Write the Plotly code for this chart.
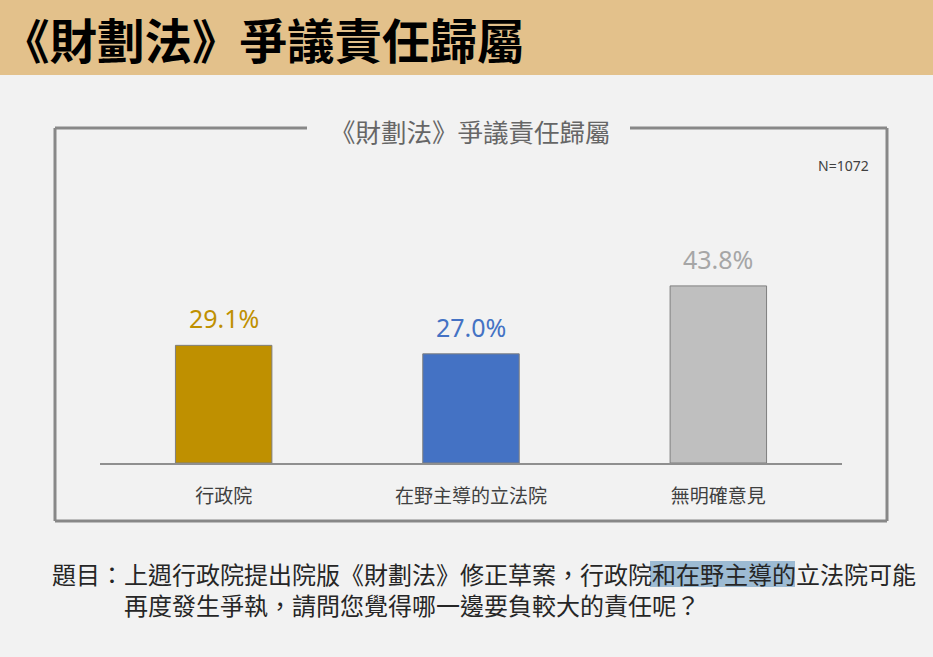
import plotly.graph_objects as go

# ---- data ----
categories = ["行政院", "在野主導的立法院", "無明確意見"]
values = [29.1, 27.0, 43.8]
value_labels = ["29.1%", "27.0%", "43.8%"]
bar_colors = ["#bf9000", "#4472c4", "#bfbfbf"]
label_colors = ["#bf9000", "#4472c4", "#a6a6a6"]

page_title = "《財劃法》爭議責任歸屬"
chart_title = "《財劃法》爭議責任歸屬"
sample_note = "N=1072"
question_line1 = "題目：上週行政院提出院版《財劃法》修正草案，行政院和在野主導的立法院可能"
question_line2 = "再度發生爭執，請問您覺得哪一邊要負較大的責任呢？"

W, H = 933, 657
CJK = "Noto Sans CJK TC"


def px(x):
    return x / W


def py(y):
    return 1 - y / H


fig = go.Figure()
fig.add_trace(go.Bar(
    x=categories,
    y=values,
    marker=dict(color=bar_colors, line=dict(color="#7f7f7f", width=1)),
    width=0.39,
    hoverinfo="skip",
))

annotations = []
for c, v, t, col in zip(categories, values, value_labels, label_colors):
    annotations.append(dict(
        x=c, y=v, xref="x", yref="y", text=t, showarrow=False,
        yanchor="bottom", yshift=8,
        font=dict(family="Noto Sans", size=25, color=col),
    ))

# header title
annotations.append(dict(
    x=px(0), y=py(38), xref="paper", yref="paper", text="<b>" + page_title + "</b>",
    showarrow=False, xanchor="left", yanchor="middle",
    font=dict(family=CJK, size=47.5, color="#000000"),
))
# chart title
annotations.append(dict(
    x=px(470), y=py(131), xref="paper", yref="paper", text=chart_title,
    showarrow=False, xanchor="center", yanchor="middle",
    font=dict(family=CJK, size=25.5, color="#666666"),
))
# N note
annotations.append(dict(
    x=px(871), y=py(165), xref="paper", yref="paper", text=sample_note,
    showarrow=False, xanchor="right", yanchor="middle",
    font=dict(family="Noto Sans", size=14, color="#404040"),
))
# question text (second line indented to align after "題目：")
annotations.append(dict(
    x=px(50), y=py(589), xref="paper", yref="paper",
    text=question_line1 + "<br>" + "\u3000\u3000\u3000" + question_line2,
    showarrow=False, xanchor="left", yanchor="middle", align="left",
    font=dict(family=CJK, size=24, color="#262626"),
))

frame_col = "#888888"
shapes = [
    # header band
    dict(type="rect", xref="paper", yref="paper", x0=0, x1=1, y0=py(75), y1=1,
         fillcolor="#e3c18b", line=dict(width=0), layer="below"),
    # highlight
    dict(type="rect", xref="paper", yref="paper", x0=px(650), x1=px(795),
         y0=py(587), y1=py(561), fillcolor="#9dbbd3", line=dict(width=0), layer="below"),
    # frame lines
    dict(type="line", xref="paper", yref="paper", x0=px(55), x1=px(55), y0=py(128), y1=py(521),
         line=dict(color=frame_col, width=3)),
    dict(type="line", xref="paper", yref="paper", x0=px(887), x1=px(887), y0=py(128), y1=py(521),
         line=dict(color=frame_col, width=3)),
    dict(type="line", xref="paper", yref="paper", x0=px(55), x1=px(887), y0=py(521), y1=py(521),
         line=dict(color=frame_col, width=3)),
    dict(type="line", xref="paper", yref="paper", x0=px(55), x1=px(307), y0=py(128), y1=py(128),
         line=dict(color=frame_col, width=3)),
    dict(type="line", xref="paper", yref="paper", x0=px(630), x1=px(887), y0=py(128), y1=py(128),
         line=dict(color=frame_col, width=3)),
]

fig.update_layout(
    width=W, height=H,
    margin=dict(l=0, r=0, t=0, b=0),
    paper_bgcolor="#f2f2f2",
    plot_bgcolor="rgba(0,0,0,0)",
    showlegend=False,
    annotations=annotations,
    shapes=shapes,
    xaxis=dict(
        domain=[px(100), px(842)],
        showline=True, linecolor="#8f8f8f", linewidth=2,
        showgrid=False, zeroline=False, ticks="",
        ticklabelstandoff=15,
        tickfont=dict(family=CJK, size=19, color="#404040"),
        fixedrange=True,
    ),
    yaxis=dict(
        domain=[py(463), py(180)],
        range=[0, 70],
        visible=False, showgrid=False, zeroline=False,
        fixedrange=True,
    ),
)

fig.write_html("out.html")
